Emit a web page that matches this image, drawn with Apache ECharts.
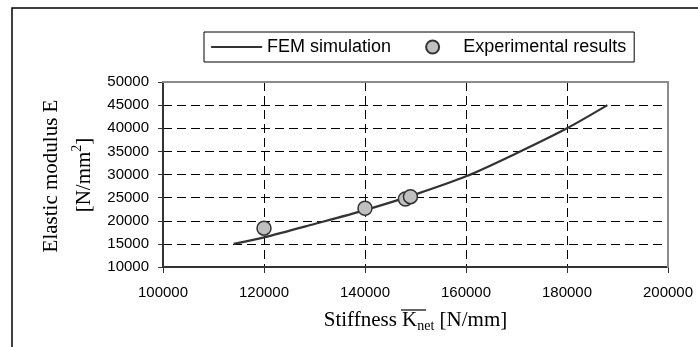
<!DOCTYPE html>
<html>
<head>
<meta charset="utf-8">
<script src="https://cdn.jsdelivr.net/npm/echarts@6/dist/echarts.min.js"></script>
<style>
  html, body { margin: 0; padding: 0; background: #fff; }
  #chart { width: 698px; height: 347px; }
</style>
</head>
<body>
<div id="chart"></div>
<script>
// FEM curve (stiffness -> elastic modulus)
const femK = [114000, 120000, 130000, 140000, 150000, 160000, 170000, 180000, 188000];
const femE = [15000, 16400, 19300, 22300, 25700, 29600, 34600, 40000, 45000];

// experimental points
const expK = [120000, 140000, 148000, 149000];
const expE = [18400, 22700, 24700, 25200];

const sans = '"Liberation Sans", Arial, sans-serif';
const serif = '"Liberation Serif", "Times New Roman", serif';

const chart = echarts.init(document.getElementById('chart'));

const option = {
  animation: false,
  backgroundColor: '#fff',
  grid: { left: 163, right: 30, top: 82, bottom: 80, show: false },
  legend: {
    left: 204,
    top: 32,
    padding: [6, 8, 6, 6],
    borderColor: '#000',
    borderWidth: 1,
    itemGap: 34,
    itemWidth: 51,
    itemHeight: 13,
    textStyle: { fontFamily: sans, fontSize: 18, color: '#000' },
    data: [
      {
        name: 'FEM simulation',
        // plain line sample, no marker
        itemStyle: { color: 'rgba(0,0,0,0)', borderWidth: 0 },
        lineStyle: { color: '#333', width: 2.2 }
      },
      { name: 'Experimental results' }
    ]
  },
  xAxis: [
    {
      type: 'value',
      min: 100000,
      max: 200000,
      interval: 20000,
      name: 'Stiffness {k|K}{s|net} [N/mm]',
      nameLocation: 'middle',
      nameGap: 40,
      nameTextStyle: {
        fontFamily: serif, fontSize: 21, color: '#000', lineHeight: 26,
        rich: {
          k: { fontFamily: serif, fontSize: 21, color: '#000', lineHeight: 26 },
          s: { fontFamily: serif, fontSize: 14, color: '#000', lineHeight: 14, verticalAlign: 'bottom' }
        }
      },
      axisLine: { lineStyle: { color: '#333', width: 2 } },
      axisTick: { length: 6, lineStyle: { color: '#333', width: 1 } },
      axisLabel: { margin: 18, fontFamily: sans, fontSize: 15, color: '#000', formatter: v => String(v) },
      splitLine: { lineStyle: { color: '#000', width: 1, type: [9, 5] } }
    },
    {
      type: 'value',
      position: 'top',
      min: 100000,
      max: 200000,
      z: 5,
      axisLine: { show: true, lineStyle: { color: '#8c8c8c', width: 2 } },
      axisTick: { show: false },
      axisLabel: { show: false },
      splitLine: { show: false }
    }
  ],
  yAxis: [
    {
      type: 'value',
      min: 10000,
      max: 50000,
      interval: 5000,
      axisLine: { show: true, lineStyle: { color: '#333', width: 2 } },
      axisTick: { show: true, length: 5, lineStyle: { color: '#333', width: 1 } },
      axisLabel: { margin: 14, fontFamily: sans, fontSize: 15, color: '#000', formatter: v => String(v) },
      splitLine: { lineStyle: { color: '#000', width: 1, type: [9, 5] } }
    },
    {
      type: 'value',
      position: 'right',
      min: 10000,
      max: 50000,
      z: 5,
      axisLine: { show: true, lineStyle: { color: '#8c8c8c', width: 2 } },
      axisTick: { show: false },
      axisLabel: { show: false },
      splitLine: { show: false }
    }
  ],
  series: [
    {
      name: 'FEM simulation',
      type: 'line',
      data: femK.map((k, i) => [k, femE[i]]),
      smooth: 0.3,
      symbol: 'none',
      color: '#333',
      lineStyle: { color: '#333', width: 2.2 },
      z: 3
    },
    {
      name: 'Experimental results',
      type: 'scatter',
      data: expK.map((k, i) => [k, expE[i]]),
      symbol: 'circle',
      symbolSize: 14,
      itemStyle: { color: '#c0c0c0', borderColor: '#333', borderWidth: 1.5, opacity: 1 },
      z: 4
    }
  ],
  graphic: [
    {
      // outer frame
      type: 'rect',
      shape: { x: 12, y: 8, width: 720, height: 380 },
      style: { fill: 'none', stroke: '#000', lineWidth: 1.5 },
      silent: true
    },
    {
      type: 'text',
      x: 51,
      y: 176,
      rotation: Math.PI / 2,
      style: {
        text: 'Elastic modulus E',
        fontFamily: serif,
        fontSize: 21,
        fill: '#000',
        align: 'center',
        verticalAlign: 'middle'
      }
    },
    {
      type: 'text',
      x: 84,
      y: 175,
      rotation: Math.PI / 2,
      style: {
        text: '{b|[N/mm}{sup|2}{b|]}',
        fontFamily: serif,
        fontSize: 21,
        fill: '#000',
        align: 'center',
        verticalAlign: 'middle',
        rich: {
          b: { fontFamily: serif, fontSize: 21, fill: '#000', lineHeight: 28 },
          sup: { fontFamily: serif, fontSize: 14, fill: '#000', lineHeight: 14, verticalAlign: 'top' }
        }
      }
    },
    {
      // bar over K_net
      type: 'line',
      shape: { x1: 401, y1: 310, x2: 426, y2: 310 },
      style: { stroke: '#000', lineWidth: 1.2 },
      silent: true
    }
  ]
};

chart.setOption(option);
</script>
</body>
</html>
